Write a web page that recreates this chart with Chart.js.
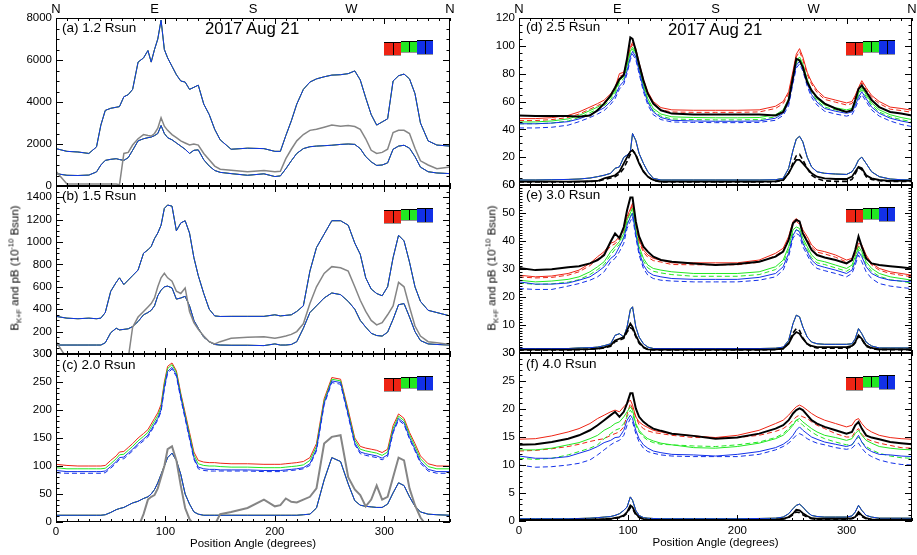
<!DOCTYPE html>
<html>
<head>
<meta charset="utf-8">
<script src="https://cdn.jsdelivr.net/npm/chart.js@4.4.1/dist/chart.umd.min.js"></script>
<style>
  body { margin: 0; width: 917px; height: 555px; position: relative; overflow: hidden; background: #fff;
         font-family: "Liberation Sans", Arial, sans-serif; color: #000; }
  canvas { position: absolute; }
  .lbl { position: absolute; white-space: nowrap; z-index: 5; }
  .plab { font-size: 13.5px; line-height: 16px; }
  .ttl { font-size: 16.8px; line-height: 20px; }
  .ytl { position: absolute; z-index: 5; font-size: 11.5px; white-space: nowrap;
         transform: translate(-50%, -50%) rotate(-90deg); }
  .ytl sub, .ytl sup { font-size: 7.5px; }
</style>
</head>
<body>
<div class="lbl plab" style="left:62px;top:20px">(a) 1.2 Rsun</div>
<div class="lbl plab" style="left:62px;top:188px">(b) 1.5 Rsun</div>
<div class="lbl plab" style="left:62px;top:357px">(c) 2.0 Rsun</div>
<div class="lbl plab" style="left:526px;top:19px">(d) 2.5 Rsun</div>
<div class="lbl plab" style="left:526px;top:187px">(e) 3.0 Rsun</div>
<div class="lbl plab" style="left:526px;top:356px">(f) 4.0 Rsun</div>
<div class="lbl ttl" style="left:205px;top:19px">2017 Aug 21</div>
<div class="lbl ttl" style="left:668px;top:20px">2017 Aug 21</div>
<div class="ytl" style="left:15px;top:268px">B<sub>K+F</sub> and pB (10<sup>-10</sup> Bsun)</div>
<div class="ytl" style="left:492px;top:268px">B<sub>K+F</sub> and pB (10<sup>-10</sup> Bsun)</div>
<script>
// position angles (degrees) for left and right columns
const angL = [0,10,20,30,37,41,45,50,55,58,62,66,70,75,80,84,87,90,93,96,99,102,106,110,114,118,122,126,130,135,140,145,150,160,175,190,200,205,210,215,220,226,232,238,245,252,260,267,273,278,283,288,293,298,303,308,313,318,323,328,333,340,348,360];
const angR = [0,15,30,45,55,65,72,78,84,88,92,96,99,102,104,107,110,114,118,123,130,140,160,180,200,220,235,242,247,251,254,257,260,264,268,273,280,290,300,305,308,311,314,318,323,330,340,350,360];

// (a) 1.2 Rsun
const a_kf = [1780,1650,1620,1550,1860,2900,3600,3700,3750,3780,4250,4350,4600,5900,6100,6450,5900,6500,7000,7900,6500,6100,5700,5300,5000,4950,4600,4700,4800,3900,3400,2700,2200,1750,1800,1780,1650,1650,2400,3100,3900,4600,4950,5100,5200,5280,5300,5350,5480,5050,4200,3400,2900,3050,3200,5000,5250,5330,5100,4400,3000,2150,1950,1900];
const a_pb = [590,510,500,520,670,1000,1220,1270,1300,1260,1220,1350,1700,2150,2250,2300,2330,2400,2500,2880,2500,2300,2200,2050,1900,1750,1550,1700,1720,1250,950,740,650,590,510,580,450,480,820,1200,1550,1780,1870,1900,1920,1940,1980,2000,1980,1780,1400,1150,980,1000,1100,1750,1900,1940,1800,1400,900,680,620,590];
const a_gray = [700,100,100,100,100,100,100,100,100,60,1550,1600,1950,2250,2450,2400,2380,2500,2750,3250,2850,2650,2450,2300,2150,2050,1950,2000,1950,1550,1250,950,800,750,680,740,680,700,1300,1750,2150,2450,2650,2700,2800,2900,2850,2880,2830,2700,2250,1700,1550,1600,1750,2550,2650,2650,2500,1800,1200,1000,820,900];

// (b) 1.5 Rsun
const b_kf = [336,320,315,320,315,320,370,560,640,680,620,660,700,750,900,930,960,1030,1080,1150,1300,1330,1320,1100,1170,1190,1080,860,700,540,400,340,335,336,336,336,350,340,345,350,380,430,740,950,1070,1190,1190,1150,990,890,680,580,540,520,600,860,1060,1010,820,600,470,390,370,340];
const b_pb = [80,80,80,80,80,80,100,190,230,215,220,225,245,290,350,370,390,430,520,570,600,606,590,490,500,515,430,300,230,150,110,85,80,78,78,75,90,80,80,85,110,230,370,430,500,545,530,470,400,300,240,185,165,160,195,310,440,450,330,200,120,90,85,80];
const b_gray = [110,-40,-40,-40,-40,-40,-40,-40,-40,-40,-40,-40,240,330,380,420,450,500,600,680,720,680,650,560,540,590,380,280,220,160,110,90,110,140,150,155,140,150,160,175,200,270,450,600,720,780,770,740,600,480,380,300,260,280,350,430,640,600,420,250,160,110,100,85];

// (c) 2.0 Rsun
const c_red = [103,101,100,100,100,100,101,110,118,125,126,133,140,150,158,165,175,185,195,210,250,278,284,270,230,195,160,125,110,107,106,106,105,104,104,103,103,103,104,105,106,108,115,140,220,258,255,200,150,135,132,130,128,124,130,172,193,185,160,140,118,104,100,100];
const c_green = [97,95,95,95,95,95,96,104,113,120,121,128,135,145,153,160,170,180,190,205,246,274,281,267,227,191,156,120,104,101,100,100,99,98,98,97,97,97,98,99,100,102,110,135,216,255,252,196,146,130,127,125,123,119,125,167,189,181,156,135,113,99,95,95];
const c_blue = [92,90,90,90,90,90,91,99,108,115,116,123,130,140,148,155,165,175,185,200,240,269,276,263,223,187,151,115,98,95,94,94,93,93,93,92,92,92,93,94,95,97,104,130,212,252,249,192,141,125,122,120,118,114,120,162,185,177,151,130,108,94,90,90];
const c_blueDash = [88,87,87,87,87,87,88,96,105,112,113,120,127,137,145,152,162,172,182,197,237,266,273,260,220,184,148,112,95,92,91,91,91,91,91,90,90,90,91,92,93,95,101,127,209,249,246,189,138,122,119,117,115,111,117,159,182,174,148,127,105,91,87,87];
const c_pb = [12,12,12,12,12,12,13,17,22,24,26,30,34,37,42,45,50,58,70,85,100,115,123,110,85,50,32,18,14,12,12,12,12,12,12,12,12,12,12,12,12,13,14,25,75,115,108,68,38,30,28,27,26,26,32,52,70,65,45,28,18,14,13,12];
const c_gray = [-10,-10,-10,-10,-10,-10,-10,-10,-10,-10,-10,-10,-10,-10,14,40,45,48,60,80,100,130,135,110,65,25,5,-5,-10,-10,-10,-5,14,18,25,40,28,30,42,36,35,40,45,60,140,152,155,80,58,48,28,40,65,40,45,80,115,110,60,30,8,-10,-10,-10];

// (d) 2.5 Rsun
const d_red = [47.7,47.7,48.4,50,52.5,56,58.5,61,65.6,70,80,81,89.5,99,102.6,98,88,76,67,60,55.6,54,53.7,53.7,53.7,54,56.6,60,67,82,94,98,92,81,74,68,63,61,59,60,64.4,70,75,70,64.4,60,56,55,53.7];
const d_redDash = [46.3,46.3,47,48.5,51,54.5,57,59.5,64,68.5,78,79.5,88,97.5,101,96.5,86.5,74.5,65.5,58.5,54,52.5,52.2,52.2,52.2,52.5,55,58.5,65.5,80,92,96,90,79.5,72.5,66.5,61.5,59.5,57.5,58.5,63,68.5,73.5,68.5,63,58.5,54.5,53.5,52.2];
const d_green = [45.3,45.3,46,47.5,50,53.5,56,58.5,63,67.5,75,78,86,96,99,95,85,72,62,55,51,49,48.5,48.3,48.3,48.5,50.5,54,62,78,89,92,87,76,68,62,57.5,55.5,54,55,60,66,70,65,59,54,50.5,48.5,47];
const d_greenDash = [44,44,44.5,46,48.5,52,54.5,57,61.5,66,73.5,76.5,84.5,94.5,97.5,93.5,83.5,70.5,60.5,53.5,49.5,47.5,47,46.8,46.8,47,49,52.5,60.5,76.5,87.5,90.5,85.5,74.5,66.5,60.5,56,54,52.5,53.5,58.5,64.5,68.5,63.5,57.5,52.5,49,47,45.5];
const d_blue = [44,44,44.5,45.5,47.5,50.5,53,55.5,60,64,71,74.5,82,92,96,92,82,69,59.5,52.5,48.5,46.5,46,45.8,45.8,46,48,51.5,59,75,86,89,84,73,65,59.5,55,53,51.5,52.5,57,63,67,62,56,51.5,48,46,44.5];
const d_blueDash = [41,41,41.5,43,45.5,48.5,51,53.5,58,62,69,72.5,80,90,94,90,80,67,57.5,50.5,47,45.3,45,44.8,44.8,45,46.5,50,57,73,84,87,82,71,63,57.5,53,51,49.5,50.5,55,61,65,60,54,49.5,46,43.5,42];
const d_black = [50,49.5,49.5,49.5,49,50,53.7,58.5,64.4,70,76,79,91,106,105,96.7,87,75,65.6,58.5,53.7,51.3,50.6,50.6,50.6,50.6,50,52.5,61,77.6,90.7,89.5,84.7,74,68,63,58.5,55,52.5,53.7,61,69,71.6,67,61,56,52.5,51.3,50];
const d_pb = [3.6,3.6,3.8,4,4.3,5,6,7,8.4,12,13,20,21.5,24,37,32,22.7,15.5,9.5,4.8,3.6,3.6,3.6,3.6,3.6,3.6,3.8,4.8,12,25,33,35,31,20,13,9.5,8.4,7.9,7.6,9.5,13,18,20,15.5,9.5,6,4.3,3.8,3.6];
const d_pbBlack = [2.4,2.4,2.4,2.4,2.5,2.7,2.9,4.8,6,7,9.5,15.5,20,24,25,21.5,15.5,9.5,6,3.6,2.4,2.4,2.4,2.4,2.4,2.4,2.6,3.6,8.4,14.3,18,18,15.5,12,8.4,6,4.8,4.3,4.3,6,9.5,13,12,7,4.8,3.6,2.9,2.9,2.9];
const d_pbBlackDash = [2.2,2.2,2.2,2.2,2.3,2.5,2.7,4,5,6,8,12,17,22,25,22,16,10,6,3.4,2.2,2.2,2.2,2.2,2.2,2.2,2.4,3.4,8.5,16,21,22,18,12,7,4.5,3,2.6,2.6,4,8,12.5,11,6,4,3,2.6,2.6,2.6];

// (e) 3.0 Rsun
const e_red = [27.8,27.2,27.5,28.4,29.6,32,34.4,36.2,39.2,39.8,41.6,44,48.7,51.5,53.5,46,40.4,36.8,35,33.8,33.2,32.2,32.2,32.2,32.2,33.2,35.6,37.4,41.6,47,48,47,44,41.6,38.6,36.8,36.2,35,33.2,33.8,36.2,39.2,38.6,35,32,30.2,29,28.4,27.8];
const e_redDash = [27.2,26.8,27,27.8,29,31.2,33.6,35.4,38.2,39,40.8,43,47.5,50.8,52.8,45.4,39.6,36,34.2,33,32.5,31.6,31.5,31.5,31.5,32.4,34.8,36.6,40.6,46,47,46,43,40.6,37.8,36,35.4,34.2,32.5,33,35.4,38.2,37.6,34.2,31.4,29.6,28.4,27.8,27.2];
const e_green = [26,25.4,25.7,26.3,27.2,29,30.8,32.6,36.2,38,39.8,42.7,47.5,50,51.7,44,38,33.8,31.4,30.2,29.6,29,28.4,28.4,28.4,29,30.8,33.2,38,44,45,44.5,41,38,35,33.2,32.6,31.4,30.2,31.4,34.4,38,36.2,32.6,30.2,28.4,27.2,26.6,26];
const e_greenDash = [25,24.5,24.7,25.3,26.2,28,29.8,31.6,35,37,38.8,41.5,46.3,48.8,50.5,43,37,32.8,30.4,29.2,28.6,28,27.4,27.4,27.4,28,29.8,32.2,37,43,44,43.5,40,37,34,32.2,31.6,30.4,29.2,30.4,33.4,37,35.2,31.6,29.2,27.4,26.2,25.6,25];
const e_blue = [25.4,24.6,24.6,25,26,27.2,29,30.8,33.8,35,38,41,45.7,48.5,49.9,42.5,36.2,31.4,29,27.8,27.2,26.6,26.3,26.3,26.3,27,28.4,30.8,35.6,42,44,43.3,39.2,36.2,33.2,31.4,30.6,29.6,28.4,29.6,32.6,36.2,34.4,30.8,28.4,27,26,25.7,25.4];
const e_blueDash = [23,22.7,22.7,23.9,24.8,26,27.2,29,32.6,33.8,36.2,39.2,44.5,47,48.7,41.3,35,30.2,27.8,26.6,26,25.7,25.4,25.4,25.4,26,27.2,29.6,34.4,41,42.7,42,38,35,32,30.2,29.4,28.4,27.2,28.4,31.4,35,32.6,29,26.6,24.8,23.9,23.4,23];
const e_black = [30.4,29.6,29.9,30.6,31,32,33.2,35,39.8,42.7,41,45,51,55.5,55.5,47,41.6,38,36.2,34.4,33.2,32.6,32,31.4,31.8,32.6,34.4,36.2,40.4,46.3,47.5,47,42.7,39.8,36.8,35,34.1,33.2,32,33.2,36.8,41.6,38,33.8,32,31.4,31,30.6,30.2];
const e_pb = [1.6,1.6,1.6,1.6,1.8,1.9,2.1,2.6,3.3,6.3,6.9,5.7,9.3,15.5,16.5,9.3,5.7,3.3,2.1,1.6,1.6,1.6,1.6,1.6,1.6,1.6,1.7,2.1,4.5,10.5,13.5,12.9,9.3,5.7,3.9,3.3,3.1,3.1,3.1,3.3,5.1,8.7,6.9,3.9,2.5,1.8,1.8,1.8,1.8];
const e_pbBlack = [1.2,1.2,1.2,1.2,1.3,1.4,1.6,2,2.7,4.5,5.1,5.7,8.1,10.5,9.3,6.3,3.9,2.1,1.3,1.2,1.2,1.2,1.2,1.2,1.2,1.2,1.3,1.6,3.3,6.3,7.5,6.9,5.1,3.3,2.5,2.1,2.1,2.1,2.1,2.5,3.9,6.3,5.1,2.7,1.8,1.3,1.3,1.3,1.3];
const e_pbBlackDash = [1.1,1.1,1.1,1.1,1.2,1.3,1.5,1.8,2.4,4,4.6,5.2,7.5,9,8.6,5.8,3.5,1.9,1.2,1.1,1.1,1.1,1.1,1.1,1.1,1.1,1.2,1.5,3.6,7.2,8.7,8,5.5,3.2,2.2,1.8,1.7,1.7,1.7,2.2,3.6,6,4.8,2.4,1.6,1.2,1.2,1.2,1.2];

// (f) 4.0 Rsun
const f_red = [14.6,14.7,15.2,15.9,16.5,17.4,18.3,18.9,19.5,19.8,19.5,20.4,21,21.6,20.7,18.6,17.7,17.1,16.7,16.2,15.9,15.6,15.2,14.9,15.3,16.2,17.4,18,18.9,19.8,20.4,20.7,20.4,19.8,19.2,18.6,18,17.4,16.8,17.1,18,18.3,17.4,16.5,15.9,15.3,14.9,14.7,14.6];
const f_redDash = [12.5,12.6,12.9,13.3,13.7,14.2,14.5,14.7,15.3,15.6,15.9,16.8,19,21,20,18.6,17.2,16.5,16.1,15.8,15.6,15.3,14.9,14.9,14.9,15.3,16,16.5,17.2,18,18.6,18.9,18.6,18.3,17.7,17.1,16.5,15.6,15,15,16,16.5,15.5,14.7,14.3,13.9,13.5,13.1,13];
const f_green = [12.7,12.7,13,13.6,14,14.7,15.3,16.2,16.8,17.4,17.7,18.6,19.5,20.4,19.8,17.4,16.2,15.3,14.7,14.3,13.9,13.6,13.1,13,13.3,13.9,14.7,15.3,16.2,17.1,18,18.3,17.7,17.1,16.5,15.9,15.3,14.9,14.4,14.7,15.6,16.2,15.3,14.4,13.9,13.3,13,12.8,12.7];
const f_greenDash = [11.2,11,11.2,11.8,12.4,13,13.6,14.7,15.6,16.2,16.5,17.4,18.6,19.8,19.2,17.1,15.9,15,14.4,14,13.7,13.6,13.4,13.3,13.6,14.1,14.9,15.6,16.5,17.4,18,17.7,17.1,16.5,15.9,15.3,14.7,14.1,13.6,13.6,14.4,15,14.1,13.3,12.7,12.1,11.6,11.3,11.2];
const f_blue = [11.6,11.2,11.2,11.5,12.1,12.7,13.3,14,14.4,14.9,15,16.2,18,18.9,18.3,16.2,14.7,13.6,13,12.5,12.2,11.9,11.8,11.6,11.9,12.4,13.1,13.7,14.4,15.3,16.2,16.8,16.2,15.6,15,14.6,14.1,13.7,13.3,13.6,14.4,15.3,14.1,13,12.4,11.9,11.8,11.6,11.5];
const f_blueDash = [10,9.6,9.7,10,10.3,10.9,11.8,12.7,13.6,14.1,14.4,15.3,17.1,18.3,17.7,15.6,14.1,13,12.4,12.1,11.8,11.6,11.5,11.5,11.5,11.9,12.7,13.3,13.9,14.7,15.3,15.6,15.3,14.7,14.3,13.9,13.6,13.1,12.8,13,13.6,13.9,13,12.1,11.5,10.9,10.4,10.1,10];
const f_black = [13.6,13.7,14.1,14.7,15.3,16.2,17.1,18,18.9,19.5,18.6,19.5,21,22.8,22.8,20.1,18.6,17.7,17.1,16.5,16.1,15.6,15.2,14.7,14.9,15.6,16.5,17.1,18,19.2,19.8,20.1,19.8,18.9,18,17.4,16.8,16.2,15.6,15.9,17.1,17.7,16.5,15.3,14.9,14.6,14.1,13.9,13.7];
const f_pb = [0.4,0.4,0.4,0.4,0.45,0.5,0.6,0.7,0.8,1,1.3,1.9,2.5,4.3,3.7,1.9,1,0.6,0.5,0.45,0.4,0.4,0.4,0.4,0.4,0.45,0.5,0.7,1.3,2.2,2.8,3,2.5,1.6,1,0.8,0.7,0.7,0.7,0.9,1.6,2.8,1.9,1,0.7,0.5,0.5,0.5,0.5];
const f_pbBlack = [0.2,0.2,0.2,0.2,0.22,0.25,0.3,0.35,0.4,0.55,0.7,1,1.6,2.8,2.5,1.3,0.7,0.35,0.25,0.2,0.2,0.2,0.2,0.2,0.2,0.2,0.25,0.4,0.7,1.3,2,1.9,1.4,0.9,0.5,0.4,0.4,0.4,0.4,0.5,0.7,1.6,1,0.5,0.3,0.25,0.25,0.25,0.25];
const f_pbBlackDash = [0.15,0.15,0.15,0.15,0.17,0.2,0.25,0.3,0.35,0.5,0.6,0.9,1.4,2.4,2.2,1.1,0.6,0.3,0.2,0.15,0.15,0.15,0.15,0.15,0.15,0.15,0.2,0.35,0.6,1.1,1.6,1.5,1.1,0.7,0.4,0.3,0.3,0.3,0.3,0.4,0.6,1.3,0.8,0.4,0.25,0.2,0.2,0.2,0.2];

const RED = '#ee2414', GREEN = '#22e822', BLUE = '#1230e8', GRAY = '#858585', BLACK = '#000';
const DASH = [5, 3];

Chart.defaults.font.family = '"Liberation Sans", Arial, sans-serif';
Chart.defaults.color = '#000';
Chart.defaults.animation = false;

function line(ang, vals, color, width, dash) {
  return {
    data: ang.map((a, i) => ({ x: a, y: vals[i] })),
    borderColor: color, borderWidth: width, borderDash: dash || [],
    pointRadius: 0, tension: 0, fill: false
  };
}

// frame, inward tick marks and the filter boxes, drawn with filled 1px rects
const framePlugin = {
  id: 'frame',
  afterDraw(chart, args, o) {
    const { ctx, chartArea: a, scales } = chart;
    const x = scales.x, y = scales.y;
    const L = Math.round(a.left), T = Math.round(a.top), R = Math.round(a.right), B = Math.round(a.bottom);
    ctx.save();
    ctx.globalAlpha = 1;
    ctx.globalCompositeOperation = 'source-over';
    ctx.fillStyle = '#000';
    // box
    ctx.fillRect(L, T, R - L, 1);
    ctx.fillRect(L, B - 1, R - L, 1);
    ctx.fillRect(L, T, 1, B - T);
    ctx.fillRect(R - 1, T, 1, B - T);
    // x ticks
    for (let v = 0; v <= 360; v += 10) {
      const px = Math.round(x.getPixelForValue(v));
      const len = v % 100 === 0 ? 6 : 3;
      ctx.fillRect(px, B - len, 1, len);
      ctx.fillRect(px, T, 1, len);
    }
    // y ticks
    const step = o.minor, major = o.major;
    for (let v = 0; v <= y.max + 1e-9; v += step) {
      const py = Math.round(y.getPixelForValue(v));
      const len = Math.abs(v / major - Math.round(v / major)) < 1e-6 ? 7 : 3.5;
      ctx.fillRect(L, py, len, 1);
      ctx.fillRect(R - len, py, len, 1);
    }

    // small red / green / blue boxes
    const boxes = [
      [RED, -66, -49, 23.5, 36.5],
      [GREEN, -49, -33, 23, 34],
      [BLUE, -33, -17, 21.5, 35.5]
    ];
    boxes.forEach(([c, x0, x1, y0, y1]) => {
      const bl = R + x0, br = R + x1, bt = Math.round(T + y0), bb = Math.round(T + y1);
      ctx.fillStyle = c;
      ctx.fillRect(bl, bt, br - bl, bb - bt);
      ctx.fillStyle = '#000';
      ctx.fillRect(bl, bt, br - bl, 1);
      ctx.fillRect(Math.round((bl + br) / 2), bt, 1, bb - bt);
      ctx.fillStyle = '#999';
      ctx.fillRect(bl, bb, br - bl, 1);
    });
    ctx.restore();
  }
};

const cols = {
  L: { left: 0, width: 456, yw: 56 },
  R: { left: 458, width: 460, yw: 61 }
};

function panel(p) {
  const col = cols[p.col];
  const isTop = !!p.isTop, isBottom = !!p.isBottom;
  const topAxis = isTop ? 18 : 0;
  const padTop = isTop ? 0 : 14;
  const xAxisH = isBottom ? 29 : 0;
  const padBottom = isBottom ? 0 : 14;
  const cv = document.createElement('canvas');
  cv.width = col.width;
  cv.height = (p.bottom - p.top) + topAxis + padTop + xAxisH + padBottom;
  cv.style.left = col.left + 'px';
  cv.style.top = (p.top - topAxis - padTop) + 'px';
  document.body.appendChild(cv);
  // Chart.js paints dataset 0 on top, so reverse the list (last listed = topmost)
  const sets = p.datasets.slice().reverse();
  new Chart(cv, {
    type: 'line',
    data: { datasets: sets },
    plugins: [framePlugin],
    options: {
      responsive: false,
      devicePixelRatio: 1,
      layout: { padding: { left: 0, right: 6, top: padTop, bottom: padBottom } },
      plugins: { legend: { display: false }, tooltip: { enabled: false }, frame: { major: p.yStep, minor: p.yMinor } },
      scales: {
        x: {
          type: 'linear', min: 0, max: 360, display: isBottom,
          afterFit: s => { s.height = xAxisH; },
          grid: { display: false, drawTicks: false }, border: { display: false },
          ticks: { stepSize: 100, includeBounds: false, font: { size: 11.5 }, color: '#000', padding: 3, maxRotation: 0, autoSkip: false,
                   callback: v => String(v) },
          title: { display: true, text: 'Position Angle (degrees)', font: { size: 11.5 }, color: '#000', padding: 0 }
        },
        xt: {
          type: 'linear', position: 'top', min: 0, max: 360, display: isTop,
          afterFit: s => { s.height = topAxis; },
          grid: { display: false, drawTicks: false }, border: { display: false },
          ticks: { stepSize: 90, font: { size: 13 }, color: '#000', padding: 1, maxRotation: 0, autoSkip: false,
                   callback: v => ['N', 'E', 'S', 'W', 'N'][Math.round(v / 90)] }
        },
        y: {
          min: 0, max: p.yMax,
          afterFit: s => { s.width = col.yw; },
          grid: { display: false, drawTicks: false }, border: { display: false },
          ticks: { stepSize: p.yStep, includeBounds: false, font: { size: 11.5 }, color: '#000', padding: 4, autoSkip: false,
                   callback: v => String(v) }
        }
      }
    }
  });
}

function leftSets(kf, pb, gray, grayW) {
  return [
    line(angL, kf, RED, 1), line(angL, kf, GREEN, 1), line(angL, kf, BLUE, 1),
    line(angL, pb, RED, 1), line(angL, pb, GREEN, 1), line(angL, pb, BLUE, 1),
    line(angL, gray, GRAY, grayW)
  ];
}

function rightSets(s) {
  return [
    line(angR, s.red, RED, 1), line(angR, s.redDash, RED, 1, DASH),
    line(angR, s.green, GREEN, 1), line(angR, s.greenDash, GREEN, 1, DASH),
    line(angR, s.blue, BLUE, 1), line(angR, s.blueDash, BLUE, 1, DASH),
    line(angR, s.pb, RED, 1), line(angR, s.pb, GREEN, 1), line(angR, s.pb, BLUE, 1),
    line(angR, s.pbBlackDash, BLACK, 1.6, DASH), line(angR, s.pbBlack, BLACK, 1.8),
    line(angR, s.black, BLACK, 2)
  ];
}

panel({ col: 'L', top: 18, bottom: 186, isTop: true, yMax: 8000, yStep: 2000, yMinor: 500,
        datasets: leftSets(a_kf, a_pb, a_gray, 1.5) });
panel({ col: 'L', top: 186, bottom: 354, yMax: 1500, yStep: 200, yMinor: 50,
        datasets: leftSets(b_kf, b_pb, b_gray, 1.5) });
panel({ col: 'L', top: 354, bottom: 522, isBottom: true, yMax: 300, yStep: 50, yMinor: 10,
        datasets: [
          line(angL, c_red, RED, 1), line(angL, c_green, GREEN, 1), line(angL, c_blue, BLUE, 1),
          line(angL, c_blueDash, BLUE, 1, DASH),
          line(angL, c_pb, RED, 1), line(angL, c_pb, GREEN, 1), line(angL, c_pb, BLUE, 1),
          line(angL, c_gray, GRAY, 2)
        ] });
panel({ col: 'R', top: 18, bottom: 185, isTop: true, yMax: 120, yStep: 20, yMinor: 5,
        datasets: rightSets({ red: d_red, redDash: d_redDash, green: d_green, greenDash: d_greenDash, blue: d_blue,
                              blueDash: d_blueDash, black: d_black, pb: d_pb, pbBlack: d_pbBlack, pbBlackDash: d_pbBlackDash }) });
panel({ col: 'R', top: 185, bottom: 353, yMax: 60, yStep: 10, yMinor: 1,
        datasets: rightSets({ red: e_red, redDash: e_redDash, green: e_green, greenDash: e_greenDash, blue: e_blue,
                              blueDash: e_blueDash, black: e_black, pb: e_pb, pbBlack: e_pbBlack, pbBlackDash: e_pbBlackDash }) });
panel({ col: 'R', top: 353, bottom: 521, isBottom: true, yMax: 30, yStep: 5, yMinor: 1,
        datasets: rightSets({ red: f_red, redDash: f_redDash, green: f_green, greenDash: f_greenDash, blue: f_blue,
                              blueDash: f_blueDash, black: f_black, pb: f_pb, pbBlack: f_pbBlack, pbBlackDash: f_pbBlackDash }) });
</script>
</body>
</html>
